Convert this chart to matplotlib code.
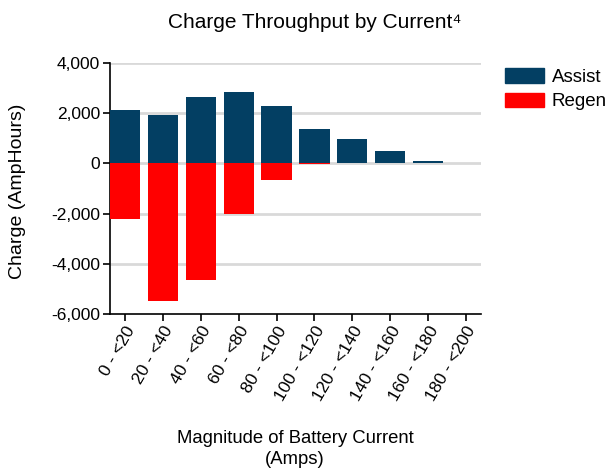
import numpy as np
import matplotlib.pyplot as plt
from matplotlib.patches import Patch

plt.rcParams['font.family'] = ['Liberation Sans', 'DejaVu Sans']

# data
categories = ['0 - <20', '20 - <40', '40 - <60', '60 - <80', '80 - <100',
              '100 - <120', '120 - <140', '140 - <160', '160 - <180', '180 - <200']
assist = [2130, 1930, 2640, 2850, 2290, 1360, 960, 490, 110, 20]
regen = [-2230, -5490, -4650, -2000, -680, -20, 0, 0, 0, 0]

c_assist = '#033f63'
c_regen = '#ff0000'

fig = plt.figure(figsize=(6.08, 4.70), dpi=100)
ax = fig.add_axes([0.181, 0.332, 0.610, 0.534])

x = np.arange(len(categories))
ax.bar(x, assist, width=0.8, color=c_assist, zorder=3)
ax.bar(x, regen, width=0.8, color=c_regen, zorder=3)

# grid
for v in [4000, 2000, 0, -2000, -4000]:
    ax.axhline(v, color='#d9d9d9', lw=2, zorder=1)

ax.set_xlim(-0.4, 9.4)
ax.set_ylim(-6000, 4000)
ax.set_yticks(np.arange(-6000, 4001, 2000))
ax.set_yticklabels([f'{v:,}' for v in range(-6000, 4001, 2000)], fontsize=12.5)
ax.set_xticks(x)
ax.set_xticklabels(categories, rotation=60, ha='right', va='top',
                   rotation_mode='anchor', fontsize=12.5)

for s in ['top', 'right']:
    ax.spines[s].set_visible(False)
ax.spines['left'].set_linewidth(1.2)
ax.spines['bottom'].set_linewidth(1.2)
ax.tick_params(length=5, width=1.2, pad=2)

fig.text(18 / 608, 1 - 191 / 470, 'Charge (AmpHours)', rotation=90,
         ha='center', va='center', fontsize=14)
fig.text(295 / 608, 1 - 449 / 470, 'Magnitude of Battery Current\n(Amps)',
         ha='center', va='center', fontsize=13.3, linespacing=1.25)
fig.text(315 / 608, 1 - 22 / 470, 'Charge Throughput by Current\u2074',
         ha='center', va='center', fontsize=15)

handles = [Patch(color=c_assist, label='Assist'), Patch(color=c_regen, label='Regen')]
fig.legend(handles=handles, loc='upper left', bbox_to_anchor=(505 / 608, 1 - 68 / 470),
           frameon=False, fontsize=13.5, handlelength=2.1, handleheight=0.85,
           handletextpad=0.4, labelspacing=0.35, borderpad=0, borderaxespad=0)

fig.savefig('out.png', dpi=100)
